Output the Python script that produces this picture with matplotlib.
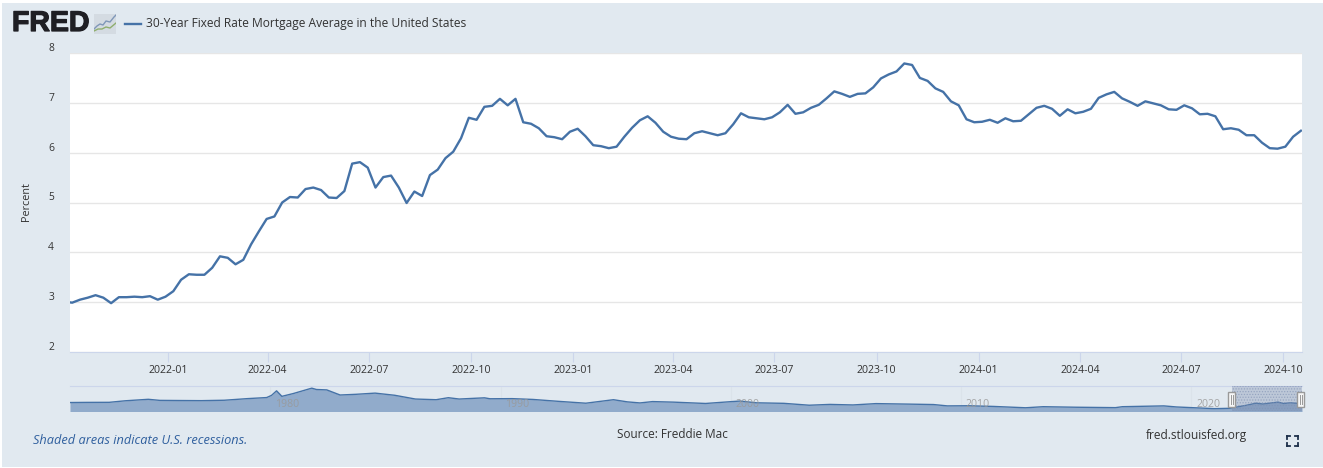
import matplotlib
matplotlib.use('Agg')
import matplotlib.pyplot as plt
import matplotlib.dates as mdates
import matplotlib.patheffects as pe
from matplotlib.patches import Rectangle
from matplotlib.transforms import ScaledTranslation
import pandas as pd

plt.rcParams['font.family'] = ['Open Sans', 'DejaVu Sans']
plt.rcParams['hatch.linewidth'] = 0.6

# weekly observations, first one 2021-09-30 (clipped by the left edge)
start_date = '2021-09-30'
rates = [
    3.01, 2.99, 3.05, 3.09, 3.14, 3.09, 2.98, 3.10, 3.10, 3.11, 3.10, 3.12, 3.05, 3.11,
    3.22, 3.45, 3.56, 3.55, 3.55, 3.69, 3.92, 3.89, 3.76, 3.85, 4.16, 4.42, 4.67,
    4.72, 5.00, 5.11, 5.10, 5.27, 5.30, 5.25, 5.10, 5.09, 5.23, 5.78, 5.81, 5.70,
    5.30, 5.51, 5.54, 5.30, 4.99, 5.22, 5.13, 5.55, 5.66, 5.89, 6.02, 6.29, 6.70,
    6.66, 6.92, 6.94, 7.08, 6.95, 7.08, 6.61, 6.58, 6.49, 6.33, 6.31, 6.27, 6.42,
    6.48, 6.33, 6.15, 6.13, 6.09, 6.12, 6.32, 6.50, 6.65, 6.73, 6.60, 6.42, 6.32,
    6.28, 6.27, 6.39, 6.43, 6.39, 6.35, 6.39, 6.57, 6.79, 6.71, 6.69, 6.67, 6.71,
    6.81, 6.96, 6.78, 6.81, 6.90, 6.96, 7.09, 7.23, 7.18, 7.12, 7.18, 7.19, 7.31,
    7.49, 7.57, 7.63, 7.79, 7.76, 7.50, 7.44, 7.29, 7.22, 7.03, 6.95, 6.67, 6.61,
    6.62, 6.66, 6.60, 6.69, 6.63, 6.64, 6.77, 6.90, 6.94, 6.88, 6.74, 6.87, 6.79,
    6.82, 6.88, 7.10, 7.17, 7.22, 7.09, 7.02, 6.94, 7.03, 6.99, 6.95, 6.87, 6.86,
    6.95, 6.89, 6.77, 6.78, 6.73, 6.47, 6.49, 6.46, 6.35, 6.35, 6.20, 6.09, 6.08,
    6.12, 6.32, 6.44,
]
month_ticks = ['2022-01', '2022-04', '2022-07', '2022-10', '2023-01', '2023-04',
               '2023-07', '2023-10', '2024-01', '2024-04', '2024-07', '2024-10']
y_ticks = [2, 3, 4, 5, 6, 7, 8]

# full history for the navigator strip
nav_years = [1971.3, 1972, 1973, 1973.7, 1974.7, 1975.2, 1976, 1977, 1978, 1979, 1979.84,
             1980.05, 1980.27, 1980.5, 1981, 1981.8, 1982, 1982.45, 1983.03, 1983.7, 1984.55,
             1985.4, 1986.3, 1987.2, 1987.73, 1988.2, 1989.3, 1989.54, 1990.5, 1991.4,
             1992.5, 1993.7, 1994.9, 1995.5, 1996.05, 1996.6, 1997.5, 1998.9, 1999.96,
             2000.4, 2001.1, 2002.3, 2003.4, 2004.3, 2005.3, 2006.3, 2007.8, 2008.8,
             2009.4, 2010.3, 2011.4, 2012.8, 2013.56, 2015, 2016.7, 2017, 2018.8, 2019.35,
             2021, 2021.66, 2022.4, 2022.8, 2023.1, 2023.76, 2024, 2024.3, 2024.8]
nav_rates = [7.3, 7.4, 7.45, 8.6, 9.7, 8.9, 8.8, 8.7, 9.0, 10.2, 11.0,
             12.6, 16.0, 11.9, 14.0, 18.0, 17.0, 16.7, 12.9, 13.4, 14.3,
             12.7, 9.9, 9.4, 10.9, 9.9, 10.8, 10.1, 10.2, 9.6,
             8.2, 6.8, 9.4, 7.8, 7.0, 8.0, 7.6, 6.6, 7.9,
             8.4, 7.1, 6.7, 5.3, 5.9, 5.5, 6.5, 6.1, 5.8,
             4.8, 4.9, 4.4, 3.4, 4.2, 3.8, 3.5, 4.2, 4.8, 4.0,
             2.75, 3.0, 5.3, 6.8, 6.2, 7.6, 6.6, 7.1, 6.4]
nav_labels = [1980, 1990, 2000, 2010, 2020]

W, H = 1323, 468
BG = '#e1e9f0'
LINE = '#4572a7'
TXT = '#333333'


def px_axes(x0, y0, x1, y1, **kw):
    # pixel box, y counted from the top of the image
    return fig.add_axes([x0 / W, 1 - y1 / H, (x1 - x0) / W, (y1 - y0) / H], **kw)


def px_text(x, y, s, **kw):
    kw.setdefault('va', 'center')
    kw.setdefault('color', TXT)
    return fig.text(x / W, 1 - y / H, s, **kw)


fig = plt.figure(figsize=(W / 100, H / 100), dpi=100, facecolor='white')

# page background, white edge on the top and the left
fig.patches.append(Rectangle((2 / W, 1 / H), 1, 1 - 4 / H, transform=fig.transFigure,
                             facecolor=BG, edgecolor='none', zorder=-5))

# main chart
dates = pd.date_range(start_date, periods=len(rates), freq='7D')
ax = px_axes(70, 53, 1302, 352)
ax.set_facecolor('white')
ax.plot(dates, rates, color=LINE, lw=1.7, solid_joinstyle='round', zorder=3)
ax.set_xlim(pd.Timestamp('2021-10-05'), dates[-1] + pd.Timedelta(days=1))
ax.set_ylim(2, 8)
ax.set_yticks(y_ticks)
ax.grid(axis='y', color='#e6e6e6', lw=1)
ax.set_axisbelow(True)
for side in ['top', 'left', 'right']:
    ax.spines[side].set_visible(False)
ax.spines['bottom'].set_color('#ccd6eb')
ax.set_xticks([mdates.date2num(pd.Timestamp(m + '-01')) for m in month_ticks])
ax.set_xticklabels(month_ticks)
ax.tick_params(axis='x', length=7, color='#ccd6eb', labelsize=7.6, labelcolor=TXT, pad=2.5)
ax.tick_params(axis='y', length=0, labelsize=7.4, labelcolor=TXT, pad=13.5)
for lab in ax.get_yticklabels():
    lab.set_transform(lab.get_transform() + ScaledTranslation(0, 6 / 100, fig.dpi_scale_trans))
    lab.set_ha('center')
px_text(26, 202, 'Percent', rotation=90, ha='center', fontsize=7.8)

# logo and legend
logo_txt = px_text(12, 24, 'FRED', family='Liberation Sans', fontweight='bold', fontsize=20.5,
                   color='#1f1f24', ha='left')
logo_txt.set_path_effects([pe.withStroke(linewidth=0.9, foreground='#1f1f24')])
logo = px_axes(94, 14, 116, 34)
logo.set_facecolor('#d4dbe2')
logo.set_xticks([])
logo.set_yticks([])
for s in logo.spines.values():
    s.set_visible(False)
logo.plot([0, 3, 6, 9, 12, 16, 20, 22], [5, 8, 10, 9, 13, 12, 17, 19], color='#7f97b8', lw=1)
logo.plot([0, 4, 8, 12, 16, 22], [3, 5, 5, 7, 6, 11], color='#8fae6e', lw=1)
logo.set_xlim(0, 22)
logo.set_ylim(0, 20)

fig.add_artist(plt.Line2D([125 / W, 141 / W], [1 - 23.5 / H] * 2, color=LINE, lw=1.7))
px_text(146, 24, '30-Year Fixed Rate Mortgage Average in the United States',
        fontsize=8.65, ha='left')

# navigator
nav = px_axes(70, 386, 1302, 411)
nav.set_facecolor(BG)
nav.fill_between(nav_years, nav_rates, 0, color='#91abcb', lw=0)
nav.plot(nav_years, nav_rates, color=LINE, lw=1)
nav.set_xlim(1971.3, 2024.8)
nav.set_ylim(1.0, 19.6)
nav.set_xticks([])
nav.set_yticks([])
for side in ['left', 'right', 'bottom']:
    nav.spines[side].set_visible(False)
nav.spines['top'].set_color('#ccd6eb')
for yr in nav_labels:
    nav.axvline(yr, color='#dbe3ea', lw=0.8, zorder=0)
    nav.text(yr + 0.73, 6.0, str(yr), color='#999999', fontsize=7.6, ha='center', va='center',
             alpha=0.85, zorder=5)

# selected range on the navigator, dotted mask
sel_x0 = 2021.74
nav.add_patch(Rectangle((sel_x0, 0), 2024.8 - sel_x0, 19.6, facecolor=(0.45, 0.52, 0.66, 0.32),
                        edgecolor='none', zorder=4))
nav.add_patch(Rectangle((sel_x0, 0), 2024.8 - sel_x0, 19.6, facecolor='none',
                        edgecolor=(0.5, 0.57, 0.7, 0.6), hatch='......', lw=0, zorder=4))
for hx in [sel_x0, 2024.75]:
    nav.add_patch(Rectangle((hx - 0.15, 4.0), 0.3, 11.2, facecolor='#f7f7f7', edgecolor='#999999',
                            lw=1, clip_on=False, zorder=6))
    nav.plot([hx - 0.04] * 2, [6.5, 13], color='#999999', lw=0.7, zorder=7, clip_on=False)
    nav.plot([hx + 0.05] * 2, [6.5, 13], color='#999999', lw=0.7, zorder=7, clip_on=False)

# footer
px_text(33, 440, 'Shaded areas indicate U.S. recessions.', style='italic',
        color='#2f5f9e', fontsize=9.2, ha='left')
px_text(617, 435, 'Source: Freddie Mac', fontsize=8.5, ha='left')
px_text(1146, 435, 'fred.stlouisfed.org', fontsize=8.6, ha='left')

# fullscreen icon
for cx, cy, dx, dy in [(1287, 436, 1, 1), (1298, 436, -1, 1), (1287, 446, 1, -1), (1298, 446, -1, -1)]:
    fig.add_artist(plt.Line2D([cx / W, (cx + 3 * dx) / W], [1 - cy / H] * 2, color='#1c2f4a', lw=1.3))
    fig.add_artist(plt.Line2D([cx / W] * 2, [1 - cy / H, 1 - (cy + 3 * dy) / H], color='#1c2f4a', lw=1.3))

fig.savefig('out.png', dpi=100, facecolor='white')
